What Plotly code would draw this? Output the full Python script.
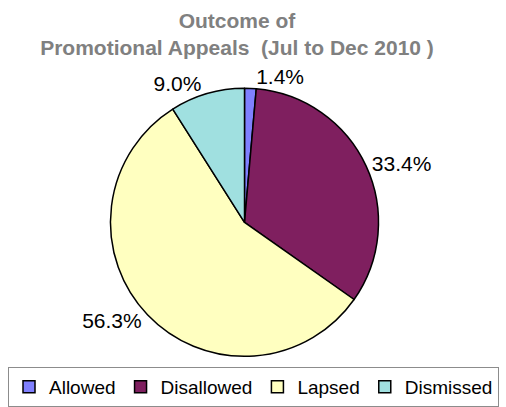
import plotly.graph_objects as go

categories = ["Allowed", "Disallowed", "Lapsed", "Dismissed"]
values = [1.4, 33.4, 56.3, 9.0]
colors = ["#8080FF", "#7F1F5F", "#FFFFC0", "#A0E0E0"]

W, H = 506, 407
cx, cy, r = 244.5, 224, 135

fig = go.Figure(go.Pie(
    labels=categories,
    values=values,
    sort=False,
    direction="clockwise",
    rotation=0,
    marker=dict(colors=colors, line=dict(color="#000000", width=1.5)),
    textposition="outside",
    texttemplate="%{value:.1f}%",
    textfont=dict(family="Liberation Sans, Arial", size=21, color="#000000"),
    hoverinfo="label+value",
    domain=dict(x=[(cx - r) / W, (cx + r) / W],
                y=[(H - cy - r) / H, (H - cy + r) / H]),
))

fig.update_layout(
    width=W, height=H,
    margin=dict(l=0, r=0, t=0, b=0),
    paper_bgcolor="#FFFFFF",
    plot_bgcolor="#FFFFFF",
    title=dict(
        text="<b>Outcome of<br>Promotional Appeals  (Jul to Dec 2010 )</b>",
        font=dict(family="Liberation Sans, Arial", size=21, color="#808080"),
        x=237 / W, xanchor="center",
        y=1 - 28 / H, yanchor="middle", yref="container",
    ),
    legend=dict(
        orientation="h",
        x=8 / W, xanchor="left",
        y=(H - 370) / H, yanchor="top",
        font=dict(family="Liberation Sans, Arial", size=19, color="#000000"),
        bordercolor="#8C8C8C", borderwidth=1,
        bgcolor="#FFFFFF",
        itemwidth=30,
    ),
    showlegend=True,
)

fig.write_html("out.html", config={"displayModeBar": False},
               post_script="document.body.style.margin='0';")
